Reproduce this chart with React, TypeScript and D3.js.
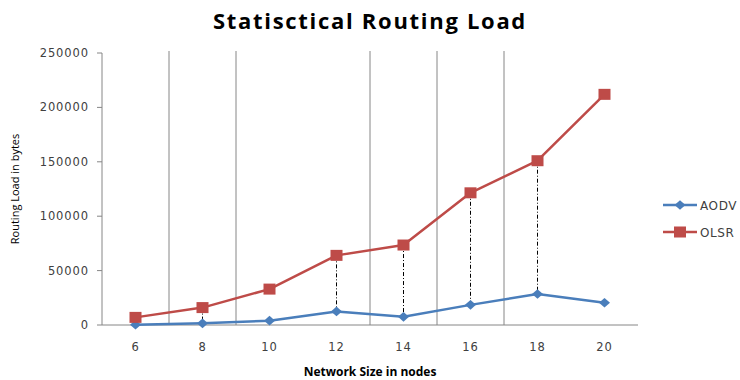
import React from "react";
import * as d3 from "d3";

const nodes = [6, 8, 10, 12, 14, 16, 18, 20];
const aodv = [200, 1500, 4000, 12500, 7500, 18500, 28500, 20500];
const olsr = [7000, 16000, 33000, 64000, 73500, 121500, 151000, 212000];
const yTicks = [0, 50000, 100000, 150000, 200000, 250000];
// vertical separators drawn between node counts (index of the right-hand category)
const separators = [1, 2, 4, 5, 6];
// node counts joined by high-low drop lines
const dropLines = [6, 8, 12, 14, 16, 18];

const W = 740;
const H = 380;
const left = 102;
const right = 638;
const top = 53;
const bottom = 325;

const BLUE = "#4a7ebb";
const RED = "#be4b48";
const AXIS = "#868686";
const TEXT = "#404040";
const FONT = "'DejaVu Sans', sans-serif";
const TFONT = "'Open Sans', sans-serif";

// diamond marker, slightly wider than tall
const diamondPath = "M-5.5,0L0,-4.8L5.5,0L0,4.8Z";

export default function App() {
  const x = d3.scalePoint<number>().domain(nodes).range([left, right]).padding(0.5);
  const step = x.step();
  const y = d3.scaleLinear().domain([0, 250000]).range([bottom, top]);

  const line = d3
    .line<number>()
    .x((_, i) => x(nodes[i])!)
    .y((d) => y(d));

  return (
    <svg width={W} height={H} style={{ position: "absolute", left: 0, top: 0, background: "#fff" }}>
      <text
        x={370}
        y={29}
        textAnchor="middle"
        fontFamily={TFONT}
        fontWeight="bold"
        fontSize={22}
        letterSpacing={1.7}
        fill="#000"
      >
        Statisctical Routing Load
      </text>

      {separators.map((s) => {
        const gx = left + s * step;
        return <line key={s} x1={gx} x2={gx} y1={top - 2} y2={bottom} stroke={AXIS} strokeWidth={1} />;
      })}

      <line x1={left} x2={left} y1={top} y2={bottom} stroke={AXIS} strokeWidth={1} />
      <line x1={left} x2={right} y1={bottom} y2={bottom} stroke={AXIS} strokeWidth={1} />
      {yTicks.map((t) => (
        <g key={t}>
          <line x1={left - 5} x2={left} y1={y(t)} y2={y(t)} stroke={AXIS} />
          <text x={89} y={y(t) + 4} textAnchor="end" fontFamily={FONT} fontSize={11.5} letterSpacing={0.9} fill={TEXT}>
            {t}
          </text>
        </g>
      ))}
      {nodes.map((n) => (
        <text key={n} x={x(n)!} y={351} textAnchor="middle" fontFamily={FONT} fontSize={11.5} letterSpacing={0.9} fill={TEXT}>
          {n}
        </text>
      ))}

      {dropLines.map((n) => {
        const i = nodes.indexOf(n);
        return (
          <line
            key={n}
            x1={x(n)!}
            x2={x(n)!}
            y1={y(olsr[i])}
            y2={y(aodv[i])}
            stroke="#000"
            strokeWidth={1}
            strokeDasharray="4,2,1,2"
          />
        );
      })}

      <path d={line(aodv)!} fill="none" stroke={BLUE} strokeWidth={2.5} strokeLinejoin="round" />
      <path d={line(olsr)!} fill="none" stroke={RED} strokeWidth={2.5} strokeLinejoin="round" />
      {aodv.map((v, i) => (
        <path key={i} d={diamondPath} transform={`translate(${x(nodes[i])},${y(v)})`} fill={BLUE} />
      ))}
      {olsr.map((v, i) => (
        <rect key={i} x={x(nodes[i])! - 6} y={y(v) - 5.5} width={12} height={11} fill={RED} />
      ))}

      <text x={370} y={376} textAnchor="middle" fontFamily={TFONT} fontWeight="bold" fontSize={12} fill="#000">
        Network Size in nodes
      </text>
      <text
        transform={`translate(19,${(top + bottom) / 2}) rotate(-90)`}
        textAnchor="middle"
        fontFamily={TFONT}
        fontSize={11}
        fill="#000"
      >
        Routing Load in bytes
      </text>

      <g>
        <line x1={663} x2={697} y1={205} y2={205} stroke={BLUE} strokeWidth={2.5} />
        <path d={diamondPath} transform="translate(680,205)" fill={BLUE} />
        <text x={700} y={210} fontFamily={FONT} fontSize={12} letterSpacing={0.6} fill={TEXT}>
          AODV
        </text>
        <line x1={663} x2={697} y1={232} y2={232} stroke={RED} strokeWidth={2.5} />
        <rect x={674} y={226.5} width={12} height={11} fill={RED} />
        <text x={700} y={237} fontFamily={FONT} fontSize={12} letterSpacing={0.6} fill={TEXT}>
          OLSR
        </text>
      </g>
    </svg>
  );
}
